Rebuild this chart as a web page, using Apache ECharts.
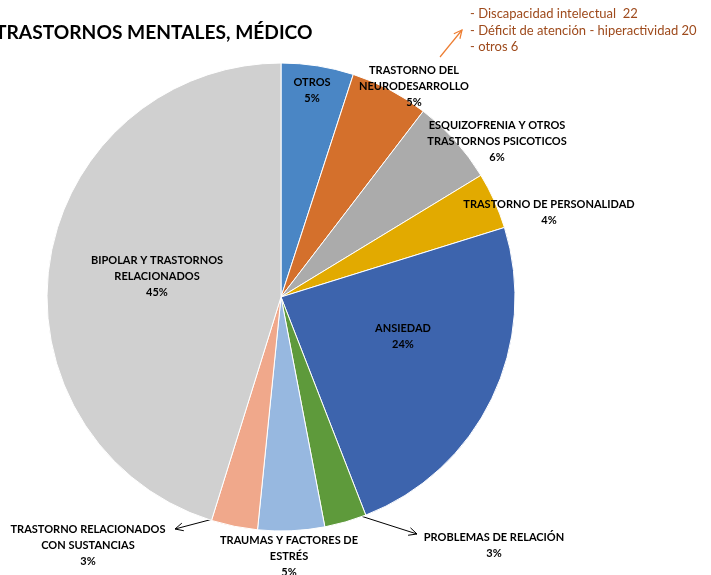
<!DOCTYPE html>
<html>
<head>
<meta charset="utf-8">
<script src="https://cdn.jsdelivr.net/npm/echarts@6/dist/echarts.min.js"></script>
<style>html,body{margin:0;padding:0;background:#fff}#c{width:711px;height:575px}</style>
</head>
<body>
<div id="c"></div>
<script>
const categories = [
  'OTROS',
  'TRASTORNO DEL\nNEURODESARROLLO',
  'ESQUIZOFRENIA Y OTROS\nTRASTORNOS PSICOTICOS',
  'TRASTORNO DE PERSONALIDAD',
  'ANSIEDAD',
  'PROBLEMAS DE RELACIÓN',
  'TRAUMAS Y FACTORES DE\nESTRÉS',
  'TRASTORNO RELACIONADOS\nCON SUSTANCIAS',
  'BIPOLAR Y TRASTORNOS\nRELACIONADOS'
];
const values = [5.0, 5.4, 5.9, 3.9, 23.9, 2.9, 4.6, 3.2, 45.2];
const annotationLines = [
  '- Discapacidad intelectual  22',
  '- Déficit de atención - hiperactividad 20',
  '- otros 6'
];
const titleText = 'TRASTORNOS MENTALES, MÉDICO';

const colors = ['#4A86C5','#D4702C','#ABABAB','#E2AA00','#3D64AD','#5E9A3B','#97B8E0','#F0A88B','#D0D0D0'];
const labelPos = [[312,90],[414,86],[497,141],[549,212],[403,336],[494,545],[289,556],[88,545],[157,276]];
const FONT = 'Lato, "Liberation Sans", sans-serif';

const chart = echarts.init(document.getElementById('c'), null, {renderer:'canvas'});
function arrow(x1,y1,x2,y2,color,w){
  const a = Math.atan2(y2-y1,x2-x1), L = 9, s = 0.45;
  return {
    type:'group', silent:true,
    children:[
      {type:'line', shape:{x1,y1,x2,y2}, style:{stroke:color, lineWidth:w}},
      {type:'polyline', shape:{points:[[x2-L*Math.cos(a-s), y2-L*Math.sin(a-s)],[x2,y2],[x2-L*Math.cos(a+s), y2-L*Math.sin(a+s)]]}, style:{stroke:color, lineWidth:w, fill:null}}
    ]
  };
}
chart.setOption({
  animation:false,
  title:{
    text:titleText, left:-10, top:18,
    textStyle:{fontFamily:FONT, fontWeight:'bold', fontSize:19.2, color:'#000'}
  },
  series:[{
    type:'pie',
    center:[281,297],
    radius:234,
    startAngle:90,
    clockwise:true,
    color:colors,
    itemStyle:{borderColor:'#fff', borderWidth:1},
    data: categories.map((n,i)=>({name:n, value:values[i]})),
    label:{
      show:true, position:'inside',
      color:'#000', fontFamily:FONT, fontWeight:'bold', fontSize:11, lineHeight:16,
      align:'center',
      formatter: p => p.name + '\n' + Math.round(p.percent) + '%'
    },
    labelLine:{show:false},
    labelLayout: p => ({x:labelPos[p.dataIndex][0], y:labelPos[p.dataIndex][1], align:'center', verticalAlign:'middle'}),
    emphasis:{disabled:true}
  }],
  graphic:[
    {type:'text', left:470, top:6, style:{text:annotationLines.join('\n'), fill:'#9E4A1C', font:'13px ' + FONT, lineHeight:16.5}},
    arrow(440,57,462,30,'#ED7D31',1.2),
    arrow(232,514,175,529,'#000',1),
    arrow(342,510,417,534,'#000',1)
  ]
});
</script>
</body>
</html>
